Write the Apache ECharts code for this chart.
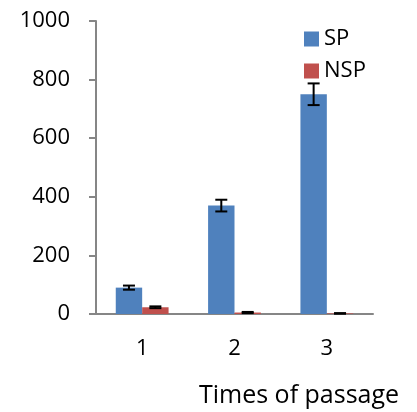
<!DOCTYPE html>
<html><head><meta charset="utf-8">
<script src="https://cdn.jsdelivr.net/npm/echarts@6/dist/echarts.min.js"></script>
<style>html,body{margin:0;padding:0;background:#fff}#c{width:417px;height:412px}</style>
</head><body><div id="c"></div>
<script>
const categories = ['1', '2', '3'];
const spValues = [90, 370, 750];
const spErrors = [7, 20, 37];
const nspValues = [23, 5, 2];
const nspErrors = [3, 2, 1];
const yTicks = [0, 200, 400, 600, 800, 1000];

const FONT = 'Open Sans';
const BAR_FRAC = 0.286;

function errData(vals, errs) {
  return vals.map((v, i) => [i, v - errs[i], v + errs[i]]);
}
function errRender(sign) {
  return function (params, api) {
    const i = api.value(0);
    const catW = api.size([1, 0])[0];
    const off = sign * catW * BAR_FRAC / 2;
    const lo = api.coord([i, api.value(1)]);
    const hi = api.coord([i, api.value(2)]);
    const x = lo[0] + off;
    const cap = 6;
    const st = { stroke: '#000', lineWidth: 2 };
    return {
      type: 'group',
      children: [
        { type: 'line', shape: { x1: x, y1: hi[1], x2: x, y2: lo[1] }, style: st },
        { type: 'line', shape: { x1: x - cap, y1: hi[1], x2: x + cap, y2: hi[1] }, style: st },
        { type: 'line', shape: { x1: x - cap, y1: lo[1], x2: x + cap, y2: lo[1] }, style: st }
      ]
    };
  };
}

const chart = echarts.init(document.getElementById('c'), null, { renderer: 'canvas' });
chart.setOption({
  animation: false,
  grid: { left: 96, right: 44, top: 21, bottom: 98, containLabel: false, outerBoundsMode: 'none' },
  legend: {
    orient: 'vertical',
    left: 299, top: 23,
    itemWidth: 15, itemHeight: 15, itemGap: 10,
    icon: 'rect',
    textStyle: { fontFamily: FONT, fontSize: 22, color: '#000' },
    data: ['SP', 'NSP']
  },
  xAxis: {
    type: 'category',
    data: categories,
    name: 'Times of passage',
    nameLocation: 'middle',
    nameGap: 0,
    nameTextStyle: { fontFamily: FONT, fontSize: 25, color: '#000', padding: [69, 0, 0, 129] },
    axisLine: { lineStyle: { color: '#868686', width: 2 } },
    axisTick: { length: 7, lineStyle: { color: '#868686', width: 2 } },
    axisLabel: { fontFamily: FONT, fontSize: 22, color: '#000', margin: 24 }
  },
  yAxis: {
    type: 'value',
    min: 0, max: 1000, interval: 200,
    axisLine: { show: true, lineStyle: { color: '#868686', width: 2 } },
    axisTick: { show: true, length: 7, lineStyle: { color: '#868686', width: 2 } },
    splitLine: { show: false },
    axisLabel: { fontFamily: FONT, fontSize: 22, color: '#000', margin: 26,
      formatter: v => String(yTicks.includes(v) ? v : v) }
  },
  series: [
    { name: 'SP', type: 'bar', data: spValues, barWidth: (BAR_FRAC * 100) + '%', barGap: '0%',
      itemStyle: { color: '#4f81bd' } },
    { name: 'NSP', type: 'bar', data: nspValues, barWidth: (BAR_FRAC * 100) + '%', barGap: '0%',
      itemStyle: { color: '#c0504d' } },
    { type: 'custom', data: errData(spValues, spErrors), renderItem: errRender(-1), z: 5 },
    { type: 'custom', data: errData(nspValues, nspErrors), renderItem: errRender(1), z: 5 }
  ]
});
</script></body></html>
